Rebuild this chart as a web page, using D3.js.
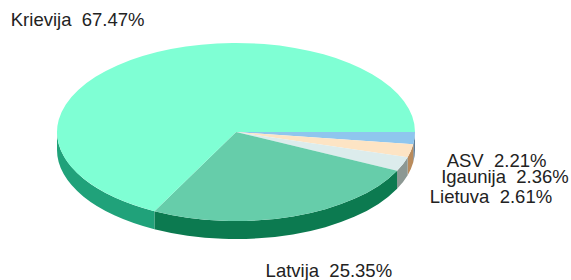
<!DOCTYPE html>
<html>
<head>
<meta charset="utf-8">
<script src="https://cdn.jsdelivr.net/npm/d3@7/dist/d3.min.js"></script>
<style>
  body { margin: 0; background: #fff; }
  text { font-family: "Liberation Sans", Arial, sans-serif; font-size: 18.5px; fill: #222; white-space: pre; }
</style>
</head>
<body>
<div id="chart"></div>
<script>
// slices in drawing order, clockwise from 3 o'clock
var categories = ['ASV', 'Igaunija', 'Lietuva', 'Latvija', 'Krievija'];
var shares = [2.21, 2.36, 2.61, 25.35, 67.47];

var topColors = ['#8fc6ee', '#fde4c4', '#dcecec', '#66cdaa', '#7fffd4'];
var sideColors = ['#5f7f9a', '#b98b5c', '#8c9893', '#0c7a50', '#20a27a'];
// label nudges from the rim point at the middle of each slice
var labelShift = [[82, 29], [94, 32], [88, 39], [36, 61], [-65, -30]];

var W = 571, H = 280;
var cx = 236, cy = 132, rx = 179, ry = 89, depth = 18;

var svg = d3.select('#chart')
  .append('svg')
  .attr('width', W)
  .attr('height', H);

var color = d3.scaleOrdinal().domain(categories).range(topColors);
var side = d3.scaleOrdinal().domain(categories).range(sideColors);

var rows = categories.map(function(c, i) { return {name: c, value: shares[i]}; });

// d3.pie angles start at 12 o'clock; shift them so the first slice starts at 3 o'clock
var arcs = d3.pie()
  .sort(null)
  .value(function(d) { return d.value; })
  .startAngle(0)
  .endAngle(2 * Math.PI)(rows);

function pt(t, dy) {
  return [cx + rx * Math.cos(t), cy + ry * Math.sin(t) + (dy || 0)];
}

// side walls, only the part facing the viewer (0..PI)
svg.append('g')
  .selectAll('path')
  .data(arcs.filter(function(a) { return a.startAngle < Math.PI; }))
  .enter()
  .append('path')
  .attr('fill', function(d) { return side(d.data.name); })
  .attr('d', function(d) {
    var a0 = Math.max(0, d.startAngle), a1 = Math.min(Math.PI, d.endAngle);
    var p0 = pt(a0), p1 = pt(a1), q1 = pt(a1, depth), q0 = pt(a0, depth);
    return 'M' + p0 + 'A' + rx + ',' + ry + ' 0 0 1 ' + p1 +
      'L' + q1 + 'A' + rx + ',' + ry + ' 0 0 0 ' + q0 + 'Z';
  });

// top faces
svg.append('g')
  .selectAll('path')
  .data(arcs)
  .enter()
  .append('path')
  .attr('fill', function(d) { return color(d.data.name); })
  .attr('d', function(d) {
    var p0 = pt(d.startAngle), p1 = pt(d.endAngle);
    var large = d.endAngle - d.startAngle > Math.PI ? 1 : 0;
    return 'M' + cx + ',' + cy + 'L' + p0 + 'A' + rx + ',' + ry + ' 0 ' + large + ' 1 ' + p1 + 'Z';
  });

// labels
svg.append('g')
  .selectAll('text')
  .data(arcs)
  .enter()
  .append('text')
  .attr('text-anchor', 'middle')
  .attr('x', function(d, i) { return pt((d.startAngle + d.endAngle) / 2)[0] + labelShift[i][0]; })
  .attr('y', function(d, i) { return pt((d.startAngle + d.endAngle) / 2)[1] + labelShift[i][1]; })
  .text(function(d) { return d.data.name + '  ' + d3.format('.2f')(d.data.value) + '%'; });
</script>
</body>
</html>
